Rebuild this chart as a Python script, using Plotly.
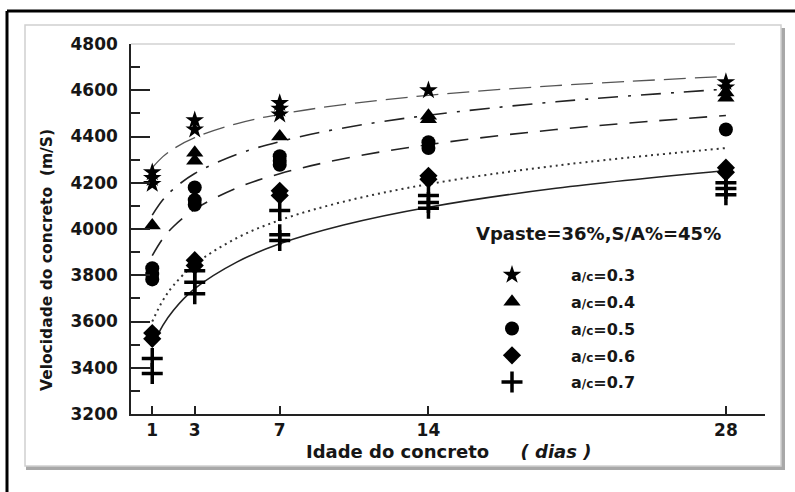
import plotly.graph_objects as go

# ---------------- data ----------------
series_names = ["a/c=0.3", "a/c=0.4", "a/c=0.5", "a/c=0.6", "a/c=0.7"]
series_symbols = ["star", "triangle-up", "circle", "diamond", "cross-thin"]

days_03 = [1, 1, 1, 3, 3, 7, 7, 7, 14, 28, 28]
vel_03 = [4245, 4220, 4195, 4470, 4430, 4545, 4520, 4495, 4600, 4635, 4612]

days_04 = [1, 3, 3, 7, 14, 14, 28, 28]
vel_04 = [4015, 4330, 4295, 4400, 4490, 4475, 4590, 4568]

days_05 = [1, 1, 1, 3, 3, 3, 7, 7, 7, 14, 14, 28]
vel_05 = [3830, 3805, 3782, 4180, 4125, 4105, 4315, 4295, 4278, 4375, 4350, 4430]

days_06 = [1, 1, 3, 3, 7, 7, 14, 14, 28, 28]
vel_06 = [3550, 3525, 3865, 3842, 4165, 4145, 4230, 4215, 4265, 4245]

days_07 = [1, 1, 3, 3, 3, 7, 7, 7, 14, 14, 14, 28, 28, 28]
vel_07 = [3440, 3375, 3820, 3770, 3720, 4080, 3975, 3950, 4145, 4115, 4090, 4200, 4175, 4148]

# fitted trend curves
curve_days = [1, 1.5, 2, 3, 5, 7, 10, 14, 20, 28]
curve_03 = [4265, 4313, 4347, 4395, 4456, 4496, 4538, 4578, 4620, 4660]
curve_04 = [4060, 4126, 4173, 4240, 4323, 4378, 4437, 4492, 4550, 4605]
curve_05 = [3885, 3959, 4011, 4085, 4178, 4239, 4304, 4365, 4430, 4491]
curve_06 = [3600, 3691, 3756, 3847, 3962, 4038, 4118, 4194, 4274, 4350]
curve_07 = [3490, 3583, 3649, 3742, 3858, 3936, 4017, 4094, 4176, 4253]

x_ticks = [1, 3, 7, 14, 28]
y_ticks = [3200, 3400, 3600, 3800, 4000, 4200, 4400, 4600, 4800]

# ---------------- layout geometry ----------------
W, H = 795, 492
ML, MR, MT, MB = 131, 30, 44, 78
PW, PH = W - ML - MR, H - MT - MB


def px(x):
    return (x - ML) / PW


def py(y):
    return (H - MB - y) / PH


FONT = "DejaVu Sans, Liberation Sans, Arial, sans-serif"
TXT = "#161616"

fig = go.Figure()

curves = [curve_03, curve_04, curve_05, curve_06, curve_07]
curve_styles = [
    dict(color="#555555", width=1.3, dash="22px,9px"),
    dict(color="#222222", width=1.6, dash="20px,10px,3px,10px"),
    dict(color="#222222", width=1.6, dash="18px,12px"),
    dict(color="#333333", width=2.0, dash="2px,4px"),
    dict(color="#222222", width=1.6, dash="solid"),
]
for cv, st in zip(curves, curve_styles):
    fig.add_trace(go.Scatter(x=curve_days, y=cv, mode="lines", line=dict(shape="spline", **st),
                             showlegend=False, hoverinfo="skip"))

point_sets = [(days_03, vel_03), (days_04, vel_04), (days_05, vel_05), (days_06, vel_06), (days_07, vel_07)]
sizes = [14, 15, 14, 14, 15]
sp = "\u00a0" * 7
for i, ((dx, vy), name, sym, sz) in enumerate(zip(point_sets, series_names, series_symbols, sizes)):
    a, rest = name.split("/c")
    label = sp + a + "<span style='font-size:12px'>/c</span>" + rest
    marker = dict(symbol=sym, size=sz, color="black")
    if sym == "cross-thin":
        marker["line"] = dict(color="black", width=3.5)
    fig.add_trace(go.Scatter(x=dx, y=vy, mode="markers", marker=marker, name=label,
                             legendgroup="g%d" % i))

shapes = []
# outer black frame
shapes.append(dict(type="line", xref="paper", yref="paper", x0=px(7), x1=px(800), y0=py(11), y1=py(11),
                   line=dict(color="black", width=3), layer="below"))
shapes.append(dict(type="line", xref="paper", yref="paper", x0=px(7), x1=px(7), y0=py(11), y1=py(500),
                   line=dict(color="black", width=3), layer="below"))
# inner picture with shadow
shapes.append(dict(type="rect", xref="paper", yref="paper", x0=px(26), x1=px(785), y0=py(28), y1=py(470),
                   fillcolor="#a8a8a8", line=dict(width=0), layer="below"))
shapes.append(dict(type="rect", xref="paper", yref="paper", x0=px(25), x1=px(781), y0=py(25), y1=py(466),
                   fillcolor="white", line=dict(color="#d0d0d0", width=1.5), layer="below"))
# faint top border of the plot
shapes.append(dict(type="line", xref="paper", yref="paper", x0=0, x1=px(735), y0=1, y1=1,
                   line=dict(color="#bbbbbb", width=1), layer="below"))

annotations = [
    dict(text="Idade do concreto &nbsp;&nbsp;&nbsp; <i>( dias )</i>", xref="paper", yref="paper",
         x=px(448), y=py(451), showarrow=False, xanchor="center", yanchor="middle",
         font=dict(family=FONT, size=18, color=TXT, weight="bold")),
    dict(text="Velocidade do concreto &nbsp;(m/S)", xref="paper", yref="paper",
         x=px(47), y=py(260), showarrow=False, textangle=-90, xanchor="center", yanchor="middle",
         font=dict(family=FONT, size=15.5, color=TXT, weight="bold")),
    dict(text="Vpaste=36%,S/A%=45%", xref="paper", yref="paper",
         x=px(474), y=py(233), showarrow=False, xanchor="left", yanchor="middle",
         font=dict(family=FONT, size=18, color=TXT, weight="bold")),
]

fig.update_layout(
    width=W, height=H,
    margin=dict(l=ML, r=MR, t=MT, b=MB),
    paper_bgcolor="white", plot_bgcolor="rgba(0,0,0,0)",
    font=dict(family=FONT, color=TXT),
    shapes=shapes, annotations=annotations,
    showlegend=True,
    legend=dict(x=px(492), y=py(258), xanchor="left", yanchor="top", bgcolor="rgba(0,0,0,0)",
                tracegroupgap=3, traceorder="grouped",
                font=dict(family=FONT, size=16, color=TXT, weight="bold")),
    xaxis=dict(range=[0, 29.84], tickvals=x_ticks, ticktext=[str(v) for v in x_ticks],
               showgrid=False, zeroline=False, showline=True, linecolor="#222222", linewidth=1.5,
               ticks="inside", ticklen=8, tickwidth=1.5, tickcolor="#222222",
               ticklabelstandoff=0,
               tickfont=dict(family=FONT, size=17, color=TXT, weight="bold")),
    yaxis=dict(range=[3200, 4800], tickvals=y_ticks, ticktext=[str(v) for v in y_ticks],
               showgrid=False, zeroline=False, showline=True, linecolor="#222222", linewidth=1.5,
               ticks="inside", ticklen=19, tickwidth=1.5, tickcolor="#222222",
               minor=dict(dtick=100, ticks="inside", ticklen=9, tickwidth=1.5, tickcolor="#222222",
                          showgrid=False),
               ticklabelstandoff=8,
               tickfont=dict(family=FONT, size=17, color=TXT, weight="bold")),
)

fig.write_html("out.html")
